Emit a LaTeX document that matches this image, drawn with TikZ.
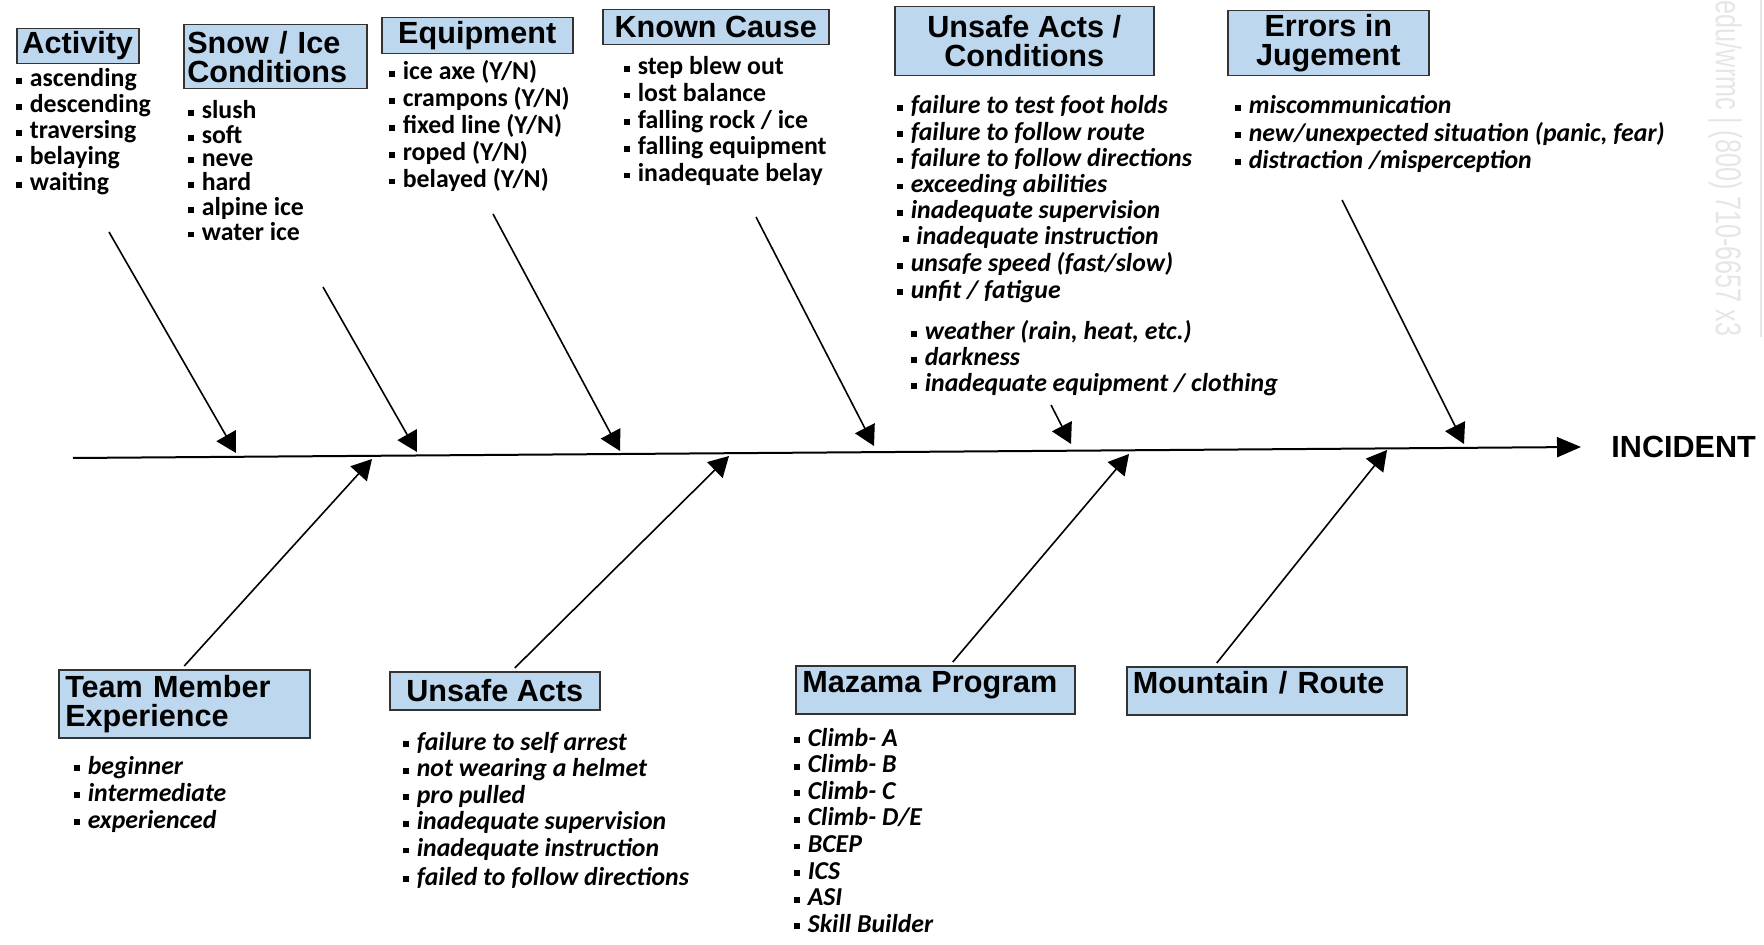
\documentclass[tikz,border=0pt]{standalone}
\usepackage{fontspec}
\setmainfont{Carlito}
\newfontfamily\headfont{Liberation Sans}
\usetikzlibrary{arrows.meta}
\definecolor{boxblue}{HTML}{BDD7EE}
\definecolor{boxline}{HTML}{333333}
\definecolor{markgray}{HTML}{E6E6E6}
\newcommand{\itm}[1]{\rule[0.12em]{0.22em}{0.22em}\hspace{0.3em}#1}
\newcommand{\lst}[1]{\begin{tabular}[t]{@{}l@{}}#1\end{tabular}}

\begin{document}
\begin{tikzpicture}[x=0.5pt, y=-0.5pt,
    heading/.style={draw=boxline, line width=0.75pt, fill=boxblue, inner sep=1.5pt,
      font=\headfont\bfseries\fontsize{15.3}{14.5}\selectfont, anchor=north west},
    items/.style={anchor=base west, inner sep=0pt,
      font=\bfseries\fontsize{12.9}{13.2}\selectfont},
    bone/.style={line width=0.8pt, -{Triangle[length=10pt, width=11pt]}},
    spine/.style={line width=1pt, -{Triangle[length=12pt, width=10pt]}}]
  \useasboundingbox (0,0) rectangle (1764,945);

  % top headings
  \node[heading, minimum width=61pt, minimum height=16.5pt] (A) at (16,28) {Activity};
  \node[heading, minimum width=91.5pt, minimum height=32pt, text width=88pt, align=left] (S) at (183,24) {Snow / Ice\\Conditions};
  \node[heading, minimum width=95.5pt, minimum height=18pt] (E) at (381,17) {Equipment};
  \node[heading, minimum width=113pt, minimum height=17.5pt] (K) at (602,9) {Known Cause};
  \node[heading, minimum width=129.5pt, minimum height=34.5pt, align=center] (U) at (894,6) {Unsafe Acts /\\Conditions};
  \node[heading, minimum width=100.5pt, minimum height=32.5pt, align=center] (J) at (1227,10) {Errors in\\Jugement};

  % bottom headings
  \node[heading, minimum width=125.5pt, minimum height=34pt, inner xsep=3pt, text width=119pt, align=left] (T) at (58,669) {Team Member\\Experience};
  \node[heading, minimum width=105pt, minimum height=19pt] (V) at (389,671) {Unsafe Acts};
  \node[heading, minimum width=139.5pt, minimum height=24pt, inner xsep=3pt, text width=133pt, text depth=8pt, align=left] (M) at (795,665) {Mazama Program};
  \node[heading, minimum width=140pt, minimum height=24pt, inner xsep=3pt, text width=134pt, text depth=8pt, align=left] (R) at (1126,666) {Mountain / Route};

  % lists
  \node[items, font=\bfseries\fontsize{12.9}{12.95}\selectfont] (a) at (16,87) {\lst{\itm{ascending}\\\itm{descending}\\\itm{traversing}\\\itm{belaying}\\\itm{waiting}}};
  \node[items, font=\bfseries\fontsize{12.9}{11.2}\selectfont] (s) at (188,119) {\lst{\itm{slush}\\\itm{soft}\\\itm{neve}\\\itm{hard}\\\itm{alpine ice}\\\itm{water ice}}};
  \node[items, font=\bfseries\fontsize{12.9}{12.9}\selectfont] (e) at (389,80) {\lst{\itm{ice axe (Y/N)}\\\itm{crampons (Y/N)}\\\itm{fixed line (Y/N)}\\\itm{roped (Y/N)}\\\itm{belayed (Y/N)}}};
  \node[items, font=\bfseries\fontsize{12.9}{13.3}\selectfont] (k) at (624,75) {\lst{\itm{step blew out}\\\itm{lost balance}\\\itm{falling rock / ice}\\\itm{falling equipment}\\\itm{inadequate belay}}};
  \node[items, font=\bfseries\itshape\fontsize{12.9}{13.1}\selectfont] (u) at (897,114) {\lst{\itm{failure to test foot holds}\\\itm{failure to follow route}\\\itm{failure to follow directions}\\\itm{exceeding abilities}\\\itm{inadequate supervision}\\\hspace{2.8pt}\itm{inadequate instruction}\\\itm{unsafe speed (fast/slow)}\\\itm{unfit / fatigue}}};
  \node[items, font=\bfseries\itshape\fontsize{12.9}{13}\selectfont] (w) at (911,340) {\lst{\itm{weather (rain, heat, etc.)}\\\itm{darkness}\\\itm{inadequate equipment / clothing}}};
  \node[items, font=\bfseries\itshape\fontsize{12.9}{13.5}\selectfont] (j) at (1235,114) {\lst{\itm{miscommunication}\\\itm{new/unexpected situation (panic, fear)}\\\itm{distraction /misperception}}};
  \node[items, font=\bfseries\itshape\fontsize{12.9}{13.5}\selectfont] (t) at (74,774) {\lst{\itm{beginner}\\\itm{intermediate}\\\itm{experienced}}};
  \node[items, font=\bfseries\itshape\fontsize{12.9}{13.3}\selectfont] (v) at (403,750) {\lst{\itm{failure to self arrest}\\\itm{not wearing a helmet}\\\itm{pro pulled}\\\itm{inadequate supervision}\\\itm{inadequate instruction}\\[1pt]\itm{failed to follow directions}}};
  \node[items, font=\bfseries\itshape\fontsize{12.9}{13.3}\selectfont] (m) at (794,746) {\lst{\itm{Climb- A}\\\itm{Climb- B}\\\itm{Climb- C}\\\itm{Climb- D/E}\\\itm{BCEP}\\\itm{ICS}\\\itm{ASI}\\\itm{Skill Builder}}};

  % spine
  \coordinate (L) at (73,458);
  \node[anchor=west, inner xsep=15pt, inner ysep=0pt, font=\headfont\bfseries\fontsize{15.3}{16}\selectfont] (I) at (1581,447) {INCIDENT};
  \draw[spine] (L) to (I.west);

  % top bones
  \coordinate (a0) at (109,232);  \coordinate (a1) at (236,453);
  \coordinate (s0) at (323,287);  \coordinate (s1) at (417,452);
  \coordinate (e0) at (493,214);  \coordinate (e1) at (620,451);
  \coordinate (k0) at (756,217);  \coordinate (k1) at (874,446);
  \coordinate (w0) at (1051,405); \coordinate (w1) at (1071,444);
  \coordinate (j0) at (1342,200); \coordinate (j1) at (1464,444);
  \draw[bone] (a0) to (a1);
  \draw[bone] (s0) to (s1);
  \draw[bone] (e0) to (e1);
  \draw[bone] (k0) to (k1);
  \draw[bone] (w0) to (w1);
  \draw[bone] (j0) to (j1);

  % bottom bones
  \coordinate (t1) at (372,459);
  \coordinate (v1) at (729,456);
  \coordinate (m1) at (1129,454);
  \coordinate (r1) at (1387,450);
  \draw[bone] ([yshift=1.5pt]T.north) to (t1);
  \draw[bone] ([xshift=10pt, yshift=1.5pt]V.north) to (v1);
  \draw[bone] ([xshift=8.75pt, yshift=1.5pt]M.north) to (m1);
  \draw[bone] ([xshift=-25pt, yshift=1.5pt]R.north) to (r1);

  % watermark
  \node[rotate=-90, anchor=east, inner sep=0pt, text=markgray, font=\headfont\fontsize{18}{18}\selectfont] (x) at (1725,337) {\scalebox{0.70}[1]{edu/wrmc | (800) 710-6657 x3}};
  \draw[markgray, line width=0.8pt] (1761,0) -- (1761,337);
\end{tikzpicture}
\end{document}
